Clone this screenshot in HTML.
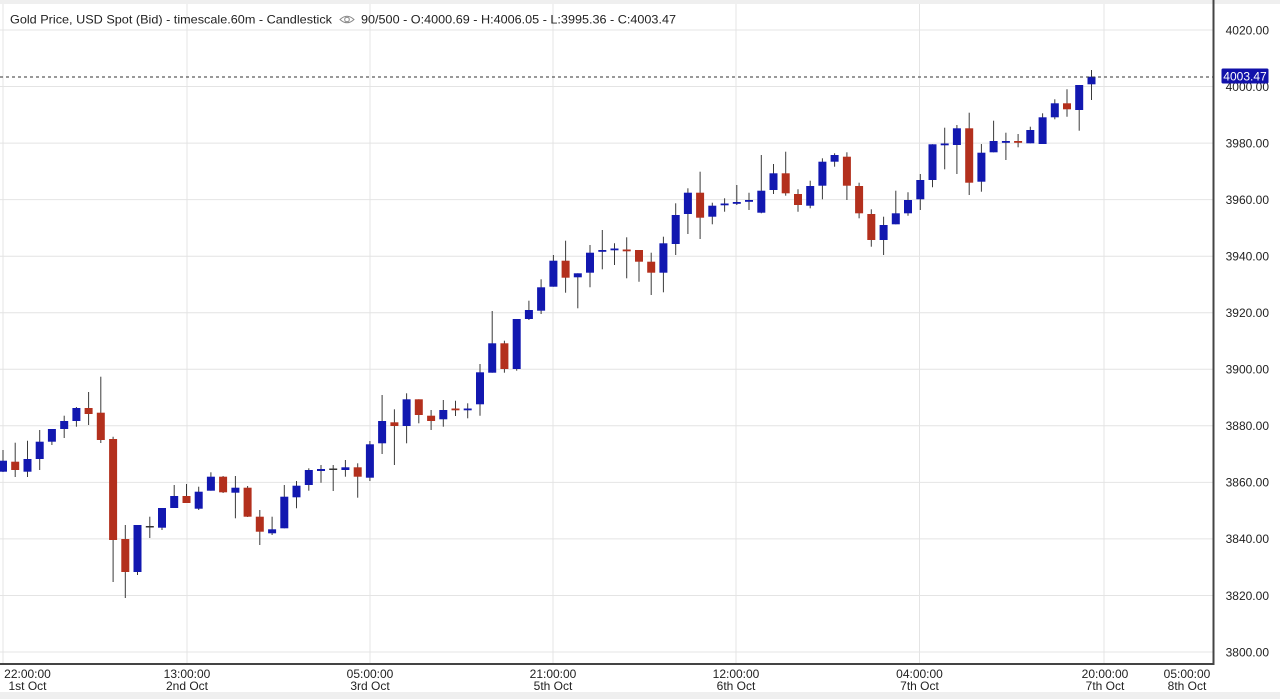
<!DOCTYPE html>
<html><head><meta charset="utf-8"><style>
html,body{margin:0;padding:0;background:#fff;width:1280px;height:699px;overflow:hidden}
svg{display:block}
text{font-family:"Liberation Sans",Arial,sans-serif;fill:#222}
.g{stroke:#e4e4e4;stroke-width:1}
.w{stroke:#3a3a3a;stroke-width:1}
.B{fill:#1218b0}
.R{fill:#b3301d}
.D{fill:#333}
</style></head><body>
<svg width="1280" height="699" viewBox="0 0 1280 699" xmlns="http://www.w3.org/2000/svg">
<rect x="0" y="0" width="1280" height="699" fill="#fff"/>
<rect x="0" y="0" width="1280" height="4" fill="#efefef"/>
<rect x="0" y="692" width="1280" height="7" fill="#efefef"/>
<!-- horizontal grid -->
<g class="g">
<line x1="0" x2="1214" y1="30" y2="30"/>
<line x1="0" x2="1214" y1="86.5" y2="86.5"/>
<line x1="0" x2="1214" y1="143.1" y2="143.1"/>
<line x1="0" x2="1214" y1="199.6" y2="199.6"/>
<line x1="0" x2="1214" y1="256.2" y2="256.2"/>
<line x1="0" x2="1214" y1="312.7" y2="312.7"/>
<line x1="0" x2="1214" y1="369.3" y2="369.3"/>
<line x1="0" x2="1214" y1="425.8" y2="425.8"/>
<line x1="0" x2="1214" y1="482.4" y2="482.4"/>
<line x1="0" x2="1214" y1="538.9" y2="538.9"/>
<line x1="0" x2="1214" y1="595.5" y2="595.5"/>
<line x1="0" x2="1214" y1="652" y2="652"/>
<!-- vertical grid -->
<line x1="3" x2="3" y1="4" y2="664"/>
<line x1="187" x2="187" y1="4" y2="664"/>
<line x1="370" x2="370" y1="4" y2="664"/>
<line x1="553" x2="553" y1="4" y2="664"/>
<line x1="736" x2="736" y1="4" y2="664"/>
<line x1="919.5" x2="919.5" y1="4" y2="664"/>
<line x1="1104" x2="1104" y1="4" y2="664"/>
</g>
<!-- candles -->
<g>
<line class="w" x1="3" x2="3" y1="450" y2="472"/><rect class="B" x="-1" y="460.7" width="8" height="11"/>
<line class="w" x1="15.2" x2="15.2" y1="442.7" y2="477"/><rect class="R" x="11.2" y="461.7" width="8" height="8.3"/>
<line class="w" x1="27.5" x2="27.5" y1="440.7" y2="477"/><rect class="B" x="23.5" y="459" width="8" height="12.7"/>
<line class="w" x1="39.7" x2="39.7" y1="430" y2="470"/><rect class="B" x="35.7" y="441.7" width="8" height="17.3"/>
<line class="w" x1="51.9" x2="51.9" y1="429" y2="445"/><rect class="B" x="47.9" y="429" width="8" height="12.7"/>
<line class="w" x1="64.2" x2="64.2" y1="415.7" y2="438"/><rect class="B" x="60.2" y="421" width="8" height="8"/>
<line class="w" x1="76.4" x2="76.4" y1="407" y2="426.7"/><rect class="B" x="72.4" y="408" width="8" height="13"/>
<line class="w" x1="88.6" x2="88.6" y1="392" y2="425"/><rect class="R" x="84.6" y="408" width="8" height="6"/>
<line class="w" x1="100.8" x2="100.8" y1="376.7" y2="443"/><rect class="R" x="96.8" y="412.7" width="8" height="27.3"/>
<line class="w" x1="113.1" x2="113.1" y1="436.7" y2="582"/><rect class="R" x="109.1" y="439" width="8" height="101"/>
<line class="w" x1="125.3" x2="125.3" y1="525" y2="598"/><rect class="R" x="121.3" y="539" width="8" height="33"/>
<line class="w" x1="137.5" x2="137.5" y1="525" y2="575"/><rect class="B" x="133.5" y="525" width="8" height="47"/>
<line class="w" x1="149.8" x2="149.8" y1="516.7" y2="538"/><rect class="D" x="145.8" y="526" width="8" height="1.5"/>
<line class="w" x1="162" x2="162" y1="508" y2="530"/><rect class="B" x="158" y="508" width="8" height="19.7"/>
<line class="w" x1="174.2" x2="174.2" y1="485" y2="508"/><rect class="B" x="170.2" y="496" width="8" height="12"/>
<line class="w" x1="186.5" x2="186.5" y1="484" y2="503"/><rect class="R" x="182.5" y="496" width="8" height="7"/>
<line class="w" x1="198.7" x2="198.7" y1="486.7" y2="510"/><rect class="B" x="194.7" y="491.7" width="8" height="17"/>
<line class="w" x1="210.9" x2="210.9" y1="472.3" y2="490.7"/><rect class="B" x="206.9" y="476.7" width="8" height="14"/>
<line class="w" x1="223.1" x2="223.1" y1="476" y2="493"/><rect class="R" x="219.1" y="476.7" width="8" height="15.6"/>
<line class="w" x1="235.4" x2="235.4" y1="476" y2="518.3"/><rect class="B" x="231.4" y="487.7" width="8" height="5"/>
<line class="w" x1="247.6" x2="247.6" y1="486" y2="517"/><rect class="R" x="243.6" y="487.7" width="8" height="29"/>
<line class="w" x1="259.8" x2="259.8" y1="510" y2="545"/><rect class="R" x="255.8" y="516.7" width="8" height="15"/>
<line class="w" x1="272.1" x2="272.1" y1="516.7" y2="535"/><rect class="B" x="268.1" y="529.3" width="8" height="4"/>
<line class="w" x1="284.3" x2="284.3" y1="485" y2="528.3"/><rect class="B" x="280.3" y="496.7" width="8" height="31.6"/>
<line class="w" x1="296.5" x2="296.5" y1="481" y2="508.3"/><rect class="B" x="292.5" y="485.7" width="8" height="11.6"/>
<line class="w" x1="308.8" x2="308.8" y1="468.3" y2="490.7"/><rect class="B" x="304.8" y="470" width="8" height="15"/>
<line class="w" x1="321" x2="321" y1="465" y2="482.7"/><rect class="B" x="317" y="469" width="8" height="2"/>
<line class="w" x1="333.2" x2="333.2" y1="465" y2="491"/><rect class="D" x="329.2" y="468.5" width="8" height="1.5"/>
<line class="w" x1="345.4" x2="345.4" y1="460" y2="476.7"/><rect class="B" x="341.4" y="467.3" width="8" height="2.7"/>
<line class="w" x1="357.7" x2="357.7" y1="463.3" y2="497.7"/><rect class="R" x="353.7" y="467.3" width="8" height="9.4"/>
<line class="w" x1="369.9" x2="369.9" y1="441" y2="481"/><rect class="B" x="365.9" y="444.3" width="8" height="33.4"/>
<line class="w" x1="382.1" x2="382.1" y1="395" y2="454"/><rect class="B" x="378.1" y="421" width="8" height="22.3"/>
<line class="w" x1="394.4" x2="394.4" y1="409.3" y2="465"/><rect class="R" x="390.4" y="422.3" width="8" height="3.7"/>
<line class="w" x1="406.6" x2="406.6" y1="393.3" y2="443.3"/><rect class="B" x="402.6" y="399.3" width="8" height="26.7"/>
<line class="w" x1="418.8" x2="418.8" y1="399.3" y2="423.3"/><rect class="R" x="414.8" y="399.3" width="8" height="15.7"/>
<line class="w" x1="431.1" x2="431.1" y1="410" y2="430"/><rect class="R" x="427.1" y="415.7" width="8" height="5.3"/>
<line class="w" x1="443.3" x2="443.3" y1="400" y2="426.7"/><rect class="B" x="439.3" y="410" width="8" height="9.3"/>
<line class="w" x1="455.5" x2="455.5" y1="400.7" y2="416"/><rect class="R" x="451.5" y="408.5" width="8" height="1.8"/>
<line class="w" x1="467.7" x2="467.7" y1="403.3" y2="418.3"/><rect class="B" x="463.7" y="408.5" width="8" height="1.8"/>
<line class="w" x1="480" x2="480" y1="364" y2="415.7"/><rect class="B" x="476" y="372.3" width="8" height="32"/>
<line class="w" x1="492.2" x2="492.2" y1="311" y2="372.7"/><rect class="B" x="488.2" y="343.3" width="8" height="29.4"/>
<line class="w" x1="504.4" x2="504.4" y1="340.7" y2="372.7"/><rect class="R" x="500.4" y="343.3" width="8" height="25.7"/>
<line class="w" x1="516.7" x2="516.7" y1="319" y2="370.7"/><rect class="B" x="512.7" y="319" width="8" height="50"/>
<line class="w" x1="528.9" x2="528.9" y1="300.7" y2="320"/><rect class="B" x="524.9" y="310" width="8" height="9"/>
<line class="w" x1="541.1" x2="541.1" y1="279.3" y2="314"/><rect class="B" x="537.1" y="287.3" width="8" height="23.4"/>
<line class="w" x1="553.4" x2="553.4" y1="255" y2="286.7"/><rect class="B" x="549.4" y="260.7" width="8" height="26"/>
<line class="w" x1="565.6" x2="565.6" y1="240.7" y2="292.7"/><rect class="R" x="561.6" y="260.7" width="8" height="17"/>
<line class="w" x1="577.8" x2="577.8" y1="273.3" y2="308.3"/><rect class="B" x="573.8" y="273.3" width="8" height="4"/>
<line class="w" x1="590" x2="590" y1="245" y2="287.3"/><rect class="B" x="586" y="252.7" width="8" height="20"/>
<line class="w" x1="602.3" x2="602.3" y1="230" y2="269.3"/><rect class="B" x="598.3" y="250" width="8" height="1.8"/>
<line class="w" x1="614.5" x2="614.5" y1="243.3" y2="265"/><rect class="B" x="610.5" y="248.5" width="8" height="1.8"/>
<line class="w" x1="626.7" x2="626.7" y1="237.3" y2="278.3"/><rect class="R" x="622.7" y="249.5" width="8" height="1.8"/>
<line class="w" x1="639" x2="639" y1="250" y2="281.7"/><rect class="R" x="635" y="250" width="8" height="11.7"/>
<line class="w" x1="651.2" x2="651.2" y1="252.7" y2="295"/><rect class="R" x="647.2" y="261.7" width="8" height="11"/>
<line class="w" x1="663.4" x2="663.4" y1="236.7" y2="292.3"/><rect class="B" x="659.4" y="243.3" width="8" height="29.4"/>
<line class="w" x1="675.7" x2="675.7" y1="203.3" y2="255"/><rect class="B" x="671.7" y="215" width="8" height="29"/>
<line class="w" x1="687.9" x2="687.9" y1="188.3" y2="234"/><rect class="B" x="683.9" y="192.7" width="8" height="21.3"/>
<line class="w" x1="700.1" x2="700.1" y1="171.7" y2="239"/><rect class="R" x="696.1" y="192.7" width="8" height="25"/>
<line class="w" x1="712.3" x2="712.3" y1="202.7" y2="224.3"/><rect class="B" x="708.3" y="205.7" width="8" height="11"/>
<line class="w" x1="724.6" x2="724.6" y1="198.3" y2="211.7"/><rect class="B" x="720.6" y="203.5" width="8" height="1.8"/>
<line class="w" x1="736.8" x2="736.8" y1="185" y2="205"/><rect class="B" x="732.8" y="202" width="8" height="1.8"/>
<line class="w" x1="749" x2="749" y1="192.7" y2="210"/><rect class="B" x="745" y="200" width="8" height="1.8"/>
<line class="w" x1="761.3" x2="761.3" y1="155" y2="213.3"/><rect class="B" x="757.3" y="190.7" width="8" height="22"/>
<line class="w" x1="773.5" x2="773.5" y1="164" y2="194"/><rect class="B" x="769.5" y="173.3" width="8" height="16.7"/>
<line class="w" x1="785.7" x2="785.7" y1="151.7" y2="195.7"/><rect class="R" x="781.7" y="173.3" width="8" height="20"/>
<line class="w" x1="798" x2="798" y1="189.3" y2="211.7"/><rect class="R" x="794" y="194" width="8" height="11"/>
<line class="w" x1="810.2" x2="810.2" y1="180.7" y2="208.3"/><rect class="B" x="806.2" y="186" width="8" height="19.7"/>
<line class="w" x1="822.4" x2="822.4" y1="158.3" y2="199.3"/><rect class="B" x="818.4" y="161.7" width="8" height="24"/>
<line class="w" x1="834.6" x2="834.6" y1="153.3" y2="166.7"/><rect class="B" x="830.6" y="155" width="8" height="6.7"/>
<line class="w" x1="846.9" x2="846.9" y1="152.3" y2="200"/><rect class="R" x="842.9" y="156.7" width="8" height="29"/>
<line class="w" x1="859.1" x2="859.1" y1="182.7" y2="218.3"/><rect class="R" x="855.1" y="186" width="8" height="27.3"/>
<line class="w" x1="871.3" x2="871.3" y1="209.3" y2="246.7"/><rect class="R" x="867.3" y="214" width="8" height="26"/>
<line class="w" x1="883.6" x2="883.6" y1="216.7" y2="255"/><rect class="B" x="879.6" y="225" width="8" height="15"/>
<line class="w" x1="895.8" x2="895.8" y1="190.7" y2="224.3"/><rect class="B" x="891.8" y="213.3" width="8" height="11"/>
<line class="w" x1="908" x2="908" y1="192.3" y2="215.7"/><rect class="B" x="904" y="200" width="8" height="13.3"/>
<line class="w" x1="920.3" x2="920.3" y1="174" y2="210"/><rect class="B" x="916.3" y="180" width="8" height="19.3"/>
<line class="w" x1="932.5" x2="932.5" y1="144.3" y2="187.3"/><rect class="B" x="928.5" y="144.3" width="8" height="35.7"/>
<line class="w" x1="944.7" x2="944.7" y1="127.7" y2="169.3"/><rect class="B" x="940.7" y="143.5" width="8" height="1.8"/>
<line class="w" x1="956.9" x2="956.9" y1="125" y2="174"/><rect class="B" x="952.9" y="128.3" width="8" height="16.7"/>
<line class="w" x1="969.2" x2="969.2" y1="112.7" y2="195"/><rect class="R" x="965.2" y="128.3" width="8" height="54.4"/>
<line class="w" x1="981.4" x2="981.4" y1="144" y2="191.7"/><rect class="B" x="977.4" y="152.7" width="8" height="29"/>
<line class="w" x1="993.6" x2="993.6" y1="120.7" y2="152.3"/><rect class="B" x="989.6" y="141" width="8" height="11.3"/>
<line class="w" x1="1005.9" x2="1005.9" y1="132.7" y2="160"/><rect class="B" x="1001.9" y="141" width="8" height="1.8"/>
<line class="w" x1="1018.1" x2="1018.1" y1="134" y2="147.3"/><rect class="R" x="1014.1" y="141" width="8" height="1.8"/>
<line class="w" x1="1030.3" x2="1030.3" y1="126.7" y2="143.3"/><rect class="B" x="1026.3" y="130" width="8" height="13.3"/>
<line class="w" x1="1042.6" x2="1042.6" y1="113.3" y2="144"/><rect class="B" x="1038.6" y="117.3" width="8" height="26.7"/>
<line class="w" x1="1054.8" x2="1054.8" y1="99.3" y2="119.3"/><rect class="B" x="1050.8" y="103.3" width="8" height="14"/>
<line class="w" x1="1067" x2="1067" y1="89.3" y2="116.7"/><rect class="R" x="1063" y="103.3" width="8" height="6"/>
<line class="w" x1="1079.2" x2="1079.2" y1="85" y2="130.7"/><rect class="B" x="1075.2" y="85" width="8" height="25"/>
<line class="w" x1="1091.5" x2="1091.5" y1="70" y2="100"/><rect class="B" x="1087.5" y="76.7" width="8" height="7.6"/>
</g>
<!-- last price dashed line -->
<line x1="0" x2="1214" y1="77" y2="77" stroke="#333" stroke-width="1" stroke-dasharray="3,3"/>
<!-- axes -->
<line x1="1213.5" x2="1213.5" y1="0" y2="665" stroke="#444" stroke-width="2"/>
<line x1="0" x2="1214" y1="664" y2="664" stroke="#444" stroke-width="2"/>
<!-- y labels -->
<g font-size="12" text-anchor="end">
<text x="1269" y="34.3">4020.00</text>
<text x="1269" y="90.8">4000.00</text>
<text x="1269" y="147.4">3980.00</text>
<text x="1269" y="203.9">3960.00</text>
<text x="1269" y="260.5">3940.00</text>
<text x="1269" y="317">3920.00</text>
<text x="1269" y="373.6">3900.00</text>
<text x="1269" y="430.1">3880.00</text>
<text x="1269" y="486.7">3860.00</text>
<text x="1269" y="543.2">3840.00</text>
<text x="1269" y="599.8">3820.00</text>
<text x="1269" y="656.3">3800.00</text>
</g>
<!-- price tag -->
<rect x="1221.5" y="68.5" width="47" height="15" rx="1.5" fill="#1111aa"/>
<text x="1245" y="80.3" font-size="12" text-anchor="middle" style="fill:#fff">4003.47</text>
<!-- x labels -->
<g font-size="12" text-anchor="middle">
<text x="27.5" y="678">22:00:00</text><text x="27.5" y="690">1st Oct</text>
<text x="187" y="678">13:00:00</text><text x="187" y="690">2nd Oct</text>
<text x="370" y="678">05:00:00</text><text x="370" y="690">3rd Oct</text>
<text x="553" y="678">21:00:00</text><text x="553" y="690">5th Oct</text>
<text x="736" y="678">12:00:00</text><text x="736" y="690">6th Oct</text>
<text x="919.5" y="678">04:00:00</text><text x="919.5" y="690">7th Oct</text>
<text x="1105" y="678">20:00:00</text><text x="1105" y="690">7th Oct</text>
<text x="1187" y="678">05:00:00</text><text x="1187" y="690">8th Oct</text>
</g>
<!-- header -->
<text x="10" y="23.3" font-size="12" textLength="322" lengthAdjust="spacingAndGlyphs">Gold Price, USD Spot (Bid) - timescale.60m - Candlestick</text>
<g stroke="#888" fill="none" stroke-width="1">
<path d="M340 19.5 Q347 13 354 19.5 Q347 26 340 19.5 Z"/>
<circle cx="347" cy="19.5" r="2.3"/>
</g>
<text x="361" y="23.3" font-size="12" textLength="315" lengthAdjust="spacingAndGlyphs">90/500 - O:4000.69 - H:4006.05 - L:3995.36 - C:4003.47</text>
</svg>
</body></html>
